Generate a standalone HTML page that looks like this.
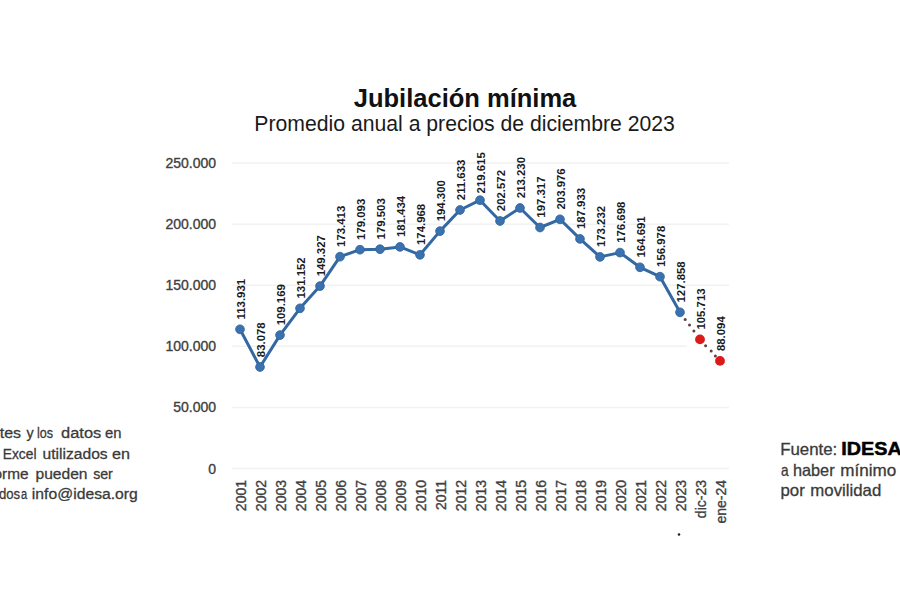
<!DOCTYPE html>
<html><head><meta charset="utf-8">
<style>
html,body{margin:0;padding:0;background:#fff;}
svg{display:block;}
text{font-family:"Liberation Sans",sans-serif;}
.ax{font-size:14px;fill:#404040;stroke:#404040;stroke-width:0.35px;}
.dl{font-size:11.4px;font-weight:bold;fill:#1a1a1a;}
.tt{font-size:25.5px;font-weight:bold;fill:#111;}
.st{font-size:21.2px;fill:#1a1a1a;}
.lt{font-size:15.5px;fill:#3a3a3a;stroke:#3a3a3a;stroke-width:0.3px;}
.rt{font-size:16.5px;fill:#3a3a3a;stroke:#3a3a3a;stroke-width:0.3px;}
.rb{font-size:18.5px;font-weight:bold;fill:#000;stroke:#000;stroke-width:0.5px;}
</style></head>
<body>
<svg width="900" height="600" viewBox="0 0 900 600">
<rect width="900" height="600" fill="#fff"/>
<text x="465" y="106.6" text-anchor="middle" class="tt">Jubilación mínima</text>
<text x="464.6" y="131.4" text-anchor="middle" class="st">Promedio anual a precios de diciembre 2023</text>
<line x1="232" y1="468.5" x2="729" y2="468.5" stroke="#f2f2f2" stroke-width="1.5"/>
<text x="216" y="473.5" text-anchor="end" class="ax">0</text>
<line x1="232" y1="407.4" x2="729" y2="407.4" stroke="#f2f2f2" stroke-width="1.5"/>
<text x="216" y="412.4" text-anchor="end" class="ax">50.000</text>
<line x1="232" y1="346.3" x2="687" y2="346.3" stroke="#f2f2f2" stroke-width="1.5"/>
<text x="216" y="351.3" text-anchor="end" class="ax">100.000</text>
<line x1="232" y1="285.3" x2="729" y2="285.3" stroke="#f2f2f2" stroke-width="1.5"/>
<text x="216" y="290.3" text-anchor="end" class="ax">150.000</text>
<line x1="232" y1="224.2" x2="729" y2="224.2" stroke="#f2f2f2" stroke-width="1.5"/>
<text x="216" y="229.2" text-anchor="end" class="ax">200.000</text>
<line x1="232" y1="163.1" x2="729" y2="163.1" stroke="#f2f2f2" stroke-width="1.5"/>
<text x="216" y="168.1" text-anchor="end" class="ax">250.000</text>
<text transform="translate(246.0,480) rotate(-90)" text-anchor="end" class="ax">2001</text>
<text transform="translate(266.0,480) rotate(-90)" text-anchor="end" class="ax">2002</text>
<text transform="translate(286.0,480) rotate(-90)" text-anchor="end" class="ax">2003</text>
<text transform="translate(306.0,480) rotate(-90)" text-anchor="end" class="ax">2004</text>
<text transform="translate(326.0,480) rotate(-90)" text-anchor="end" class="ax">2005</text>
<text transform="translate(346.0,480) rotate(-90)" text-anchor="end" class="ax">2006</text>
<text transform="translate(366.0,480) rotate(-90)" text-anchor="end" class="ax">2007</text>
<text transform="translate(386.0,480) rotate(-90)" text-anchor="end" class="ax">2008</text>
<text transform="translate(406.0,480) rotate(-90)" text-anchor="end" class="ax">2009</text>
<text transform="translate(426.0,480) rotate(-90)" text-anchor="end" class="ax">2010</text>
<text transform="translate(446.0,480) rotate(-90)" text-anchor="end" class="ax">2011</text>
<text transform="translate(466.0,480) rotate(-90)" text-anchor="end" class="ax">2012</text>
<text transform="translate(486.0,480) rotate(-90)" text-anchor="end" class="ax">2013</text>
<text transform="translate(506.0,480) rotate(-90)" text-anchor="end" class="ax">2014</text>
<text transform="translate(526.0,480) rotate(-90)" text-anchor="end" class="ax">2015</text>
<text transform="translate(546.0,480) rotate(-90)" text-anchor="end" class="ax">2016</text>
<text transform="translate(566.0,480) rotate(-90)" text-anchor="end" class="ax">2017</text>
<text transform="translate(586.0,480) rotate(-90)" text-anchor="end" class="ax">2018</text>
<text transform="translate(606.0,480) rotate(-90)" text-anchor="end" class="ax">2019</text>
<text transform="translate(626.0,480) rotate(-90)" text-anchor="end" class="ax">2020</text>
<text transform="translate(646.0,480) rotate(-90)" text-anchor="end" class="ax">2021</text>
<text transform="translate(666.0,480) rotate(-90)" text-anchor="end" class="ax">2022</text>
<text transform="translate(686.0,480) rotate(-90)" text-anchor="end" class="ax">2023</text>
<text transform="translate(706.0,480) rotate(-90)" text-anchor="end" class="ax">dic-23</text>
<text transform="translate(726.0,480) rotate(-90)" text-anchor="end" class="ax">ene-24</text>
<polyline points="240.0,329.3 260.0,367.0 280.0,335.1 300.0,308.3 320.0,286.1 340.0,256.7 360.0,249.7 380.0,249.2 400.0,246.9 420.0,254.8 440.0,231.1 460.0,210.0 480.0,200.2 500.0,221.0 520.0,208.0 540.0,227.5 560.0,219.3 580.0,238.9 600.0,256.9 620.0,252.6 640.0,267.3 660.0,276.7 680.0,312.3" fill="none" stroke="#3368a2" stroke-width="3" stroke-linejoin="round"/>
<circle cx="685.2" cy="319.4" r="1.5" fill="#604048"/>
<circle cx="689.5" cy="325.0" r="1.5" fill="#604048"/>
<circle cx="693.9" cy="331.1" r="1.5" fill="#604048"/>
<circle cx="705.6" cy="345.8" r="1.5" fill="#604048"/>
<circle cx="711.2" cy="351.0" r="1.5" fill="#604048"/>
<circle cx="715.4" cy="356.0" r="1.5" fill="#604048"/>
<circle cx="240.0" cy="329.3" r="4.4" fill="#3a71ae" stroke="#30659c" stroke-width="0.8"/>
<circle cx="260.0" cy="367.0" r="4.4" fill="#3a71ae" stroke="#30659c" stroke-width="0.8"/>
<circle cx="280.0" cy="335.1" r="4.4" fill="#3a71ae" stroke="#30659c" stroke-width="0.8"/>
<circle cx="300.0" cy="308.3" r="4.4" fill="#3a71ae" stroke="#30659c" stroke-width="0.8"/>
<circle cx="320.0" cy="286.1" r="4.4" fill="#3a71ae" stroke="#30659c" stroke-width="0.8"/>
<circle cx="340.0" cy="256.7" r="4.4" fill="#3a71ae" stroke="#30659c" stroke-width="0.8"/>
<circle cx="360.0" cy="249.7" r="4.4" fill="#3a71ae" stroke="#30659c" stroke-width="0.8"/>
<circle cx="380.0" cy="249.2" r="4.4" fill="#3a71ae" stroke="#30659c" stroke-width="0.8"/>
<circle cx="400.0" cy="246.9" r="4.4" fill="#3a71ae" stroke="#30659c" stroke-width="0.8"/>
<circle cx="420.0" cy="254.8" r="4.4" fill="#3a71ae" stroke="#30659c" stroke-width="0.8"/>
<circle cx="440.0" cy="231.1" r="4.4" fill="#3a71ae" stroke="#30659c" stroke-width="0.8"/>
<circle cx="460.0" cy="210.0" r="4.4" fill="#3a71ae" stroke="#30659c" stroke-width="0.8"/>
<circle cx="480.0" cy="200.2" r="4.4" fill="#3a71ae" stroke="#30659c" stroke-width="0.8"/>
<circle cx="500.0" cy="221.0" r="4.4" fill="#3a71ae" stroke="#30659c" stroke-width="0.8"/>
<circle cx="520.0" cy="208.0" r="4.4" fill="#3a71ae" stroke="#30659c" stroke-width="0.8"/>
<circle cx="540.0" cy="227.5" r="4.4" fill="#3a71ae" stroke="#30659c" stroke-width="0.8"/>
<circle cx="560.0" cy="219.3" r="4.4" fill="#3a71ae" stroke="#30659c" stroke-width="0.8"/>
<circle cx="580.0" cy="238.9" r="4.4" fill="#3a71ae" stroke="#30659c" stroke-width="0.8"/>
<circle cx="600.0" cy="256.9" r="4.4" fill="#3a71ae" stroke="#30659c" stroke-width="0.8"/>
<circle cx="620.0" cy="252.6" r="4.4" fill="#3a71ae" stroke="#30659c" stroke-width="0.8"/>
<circle cx="640.0" cy="267.3" r="4.4" fill="#3a71ae" stroke="#30659c" stroke-width="0.8"/>
<circle cx="660.0" cy="276.7" r="4.4" fill="#3a71ae" stroke="#30659c" stroke-width="0.8"/>
<circle cx="680.0" cy="312.3" r="4.4" fill="#3a71ae" stroke="#30659c" stroke-width="0.8"/>
<circle cx="700.0" cy="339.4" r="4.9" fill="#dc1a1a"/>
<circle cx="720.0" cy="360.9" r="4.9" fill="#dc1a1a"/>
<text transform="translate(245.2,319.5) rotate(-90)" class="dl">113.931</text>
<text transform="translate(265.2,357.2) rotate(-90)" class="dl">83.078</text>
<text transform="translate(285.2,325.3) rotate(-90)" class="dl">109.169</text>
<text transform="translate(305.2,298.5) rotate(-90)" class="dl">131.152</text>
<text transform="translate(325.2,276.3) rotate(-90)" class="dl">149.327</text>
<text transform="translate(345.2,246.9) rotate(-90)" class="dl">173.413</text>
<text transform="translate(365.2,239.9) rotate(-90)" class="dl">179.093</text>
<text transform="translate(385.2,239.4) rotate(-90)" class="dl">179.503</text>
<text transform="translate(405.2,237.1) rotate(-90)" class="dl">181.434</text>
<text transform="translate(425.2,245.0) rotate(-90)" class="dl">174.968</text>
<text transform="translate(445.2,221.3) rotate(-90)" class="dl">194.300</text>
<text transform="translate(465.2,200.2) rotate(-90)" class="dl">211.633</text>
<text transform="translate(485.2,193.4) rotate(-90)" class="dl">219.615</text>
<text transform="translate(505.2,211.2) rotate(-90)" class="dl">202.572</text>
<text transform="translate(525.2,198.2) rotate(-90)" class="dl">213.230</text>
<text transform="translate(545.2,217.7) rotate(-90)" class="dl">197.317</text>
<text transform="translate(565.2,209.5) rotate(-90)" class="dl">203.976</text>
<text transform="translate(585.2,229.1) rotate(-90)" class="dl">187.933</text>
<text transform="translate(605.2,247.1) rotate(-90)" class="dl">173.232</text>
<text transform="translate(625.2,242.8) rotate(-90)" class="dl">176.698</text>
<text transform="translate(645.2,257.5) rotate(-90)" class="dl">164.691</text>
<text transform="translate(665.2,266.9) rotate(-90)" class="dl">156.978</text>
<text transform="translate(685.2,302.5) rotate(-90)" class="dl">127.858</text>
<text transform="translate(705.2,329.6) rotate(-90)" class="dl">105.713</text>
<text transform="translate(725.2,351.1) rotate(-90)" class="dl">88.094</text>
<text x="-0.21" y="437.5" class="lt" textLength="21.27" lengthAdjust="spacingAndGlyphs">tes</text>
<text x="26.50" y="437.5" class="lt" textLength="7.15" lengthAdjust="spacingAndGlyphs">y</text>
<text x="36.98" y="437.5" class="lt" textLength="16.16" lengthAdjust="spacingAndGlyphs">los</text>
<text x="61.06" y="437.5" class="lt" textLength="40.22" lengthAdjust="spacingAndGlyphs">datos</text>
<text x="105.03" y="437.5" class="lt" textLength="16.45" lengthAdjust="spacingAndGlyphs">en</text>
<text x="2.73" y="458.8" class="lt" textLength="33.81" lengthAdjust="spacingAndGlyphs">Excel</text>
<text x="42.49" y="458.8" class="lt" textLength="65.16" lengthAdjust="spacingAndGlyphs">utilizados</text>
<text x="112.07" y="458.8" class="lt" textLength="17.99" lengthAdjust="spacingAndGlyphs">en</text>
<text x="-6.45" y="479.2" class="lt" textLength="35.07" lengthAdjust="spacingAndGlyphs">orme</text>
<text x="35.49" y="479.2" class="lt" textLength="52.03" lengthAdjust="spacingAndGlyphs">pueden</text>
<text x="93.13" y="479.2" class="lt" textLength="19.71" lengthAdjust="spacingAndGlyphs">ser</text>
<text x="-1.04" y="498.6" class="lt" textLength="21.24" lengthAdjust="spacingAndGlyphs">dos</text>
<text x="21.07" y="498.6" class="lt" textLength="6.17" lengthAdjust="spacingAndGlyphs">a</text>
<text x="31.89" y="498.6" class="lt" textLength="105.95" lengthAdjust="spacingAndGlyphs">info@idesa.org</text>
<text x="780.22" y="455.1" class="rt" textLength="57.09" lengthAdjust="spacingAndGlyphs">Fuente:</text>
<text x="841.32" y="455.1" class="rb" textLength="60.48" lengthAdjust="spacingAndGlyphs">IDESA</text>
<text x="780.97" y="476" class="rt" textLength="7.61" lengthAdjust="spacingAndGlyphs">a</text>
<text x="792.96" y="476" class="rt" textLength="41.63" lengthAdjust="spacingAndGlyphs">haber</text>
<text x="840.27" y="476" class="rt" textLength="55.93" lengthAdjust="spacingAndGlyphs">mínimo</text>
<text x="780.53" y="496.1" class="rt" textLength="24.27" lengthAdjust="spacingAndGlyphs">por</text>
<text x="810.38" y="496.1" class="rt" textLength="70.91" lengthAdjust="spacingAndGlyphs">movilidad</text>
<circle cx="679" cy="534.5" r="1.3" fill="#222"/>
</svg>
</body></html>
